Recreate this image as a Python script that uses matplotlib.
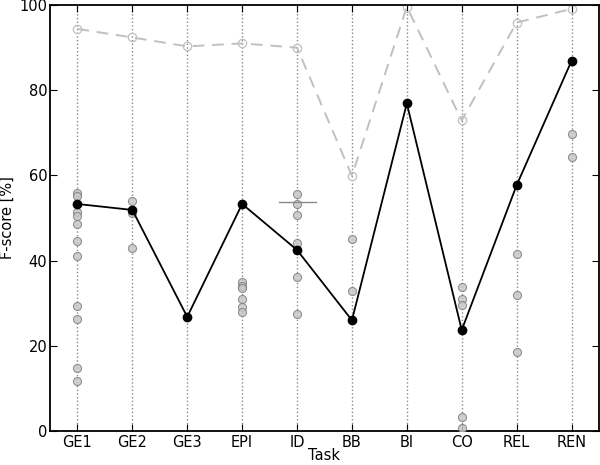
import matplotlib
matplotlib.use('Agg')
import matplotlib.pyplot as plt
import numpy as np

tasks = ['GE1', 'GE2', 'GE3', 'EPI', 'ID', 'BB', 'BI', 'CO', 'REL', 'REN']
# upper bound (dashed, open circles)
upper = [94.4, 92.4, 90.3, 91.0, 90.0, 59.9, 99.6, 72.9, 95.9, 99.1]
# best system (solid, black dots)
best = [53.3, 51.9, 26.8, 53.3, 42.5, 26.0, 76.9, 23.7, 57.7, 86.9]
# other participants (gray dots)
others = {
    'GE1': [55.9, 55.1, 51.5, 50.5, 48.7, 44.6, 41.1, 29.3, 26.2, 14.7, 11.7],
    'GE2': [54.0, 51.1, 43.0],
    'GE3': [],
    'EPI': [35.0, 34.0, 33.5, 31.1, 29.0, 27.9],
    'ID': [55.6, 53.3, 50.6, 44.2, 36.2, 27.4],
    'BB': [45.0, 32.9],
    'BI': [],
    'CO': [33.9, 31.1, 29.6, 3.2, 0.6],
    'REL': [41.5, 31.9, 18.6],
    'REN': [69.8, 64.3],
}
id_mark = 53.8  # horizontal marker at ID

fig = plt.figure(figsize=(6, 4.65), dpi=100)
ax = fig.add_axes([0.0833, 0.0731, 0.915, 0.916])
x = np.arange(len(tasks))

for i, t in enumerate(tasks):
    vals = others[t]
    ax.plot([i] * len(vals), vals, 'o', markersize=5.8, markerfacecolor='#c8c8c8',
            markeredgecolor='#808080', markeredgewidth=0.8, alpha=0.85, zorder=3)

ax.plot(x, upper, '--', color='#c0c0c0', linewidth=1.4, dashes=(6, 4), zorder=2)
ax.plot(x, upper, 'o', markersize=6, markerfacecolor='none',
        markeredgecolor='#c0c0c0', markeredgewidth=0.9, zorder=2)
ax.plot(x, best, '-', color='k', linewidth=1.3, marker='o', markersize=6,
        markerfacecolor='k', markeredgecolor='k', zorder=4)
ax.plot([4 - 0.33, 4 + 0.34], [id_mark, id_mark], color='#888888', linewidth=1.0, zorder=3)

ax.set_xlim(-0.5, len(tasks) - 0.5)
ax.set_ylim(0, 100)
ax.set_xticks(x)
ax.set_xticklabels(tasks)
ax.set_yticks(np.arange(0, 101, 20))
ax.grid(axis='x', color='#888888', linestyle=':', linewidth=1.0)
ax.set_axisbelow(True)
ax.tick_params(direction='in', top=True, right=True, labelsize=10.5, length=5)
ax.tick_params(axis='y', pad=2)
ax.tick_params(axis='x', pad=3)
for s in ax.spines.values():
    s.set_linewidth(1.3)
ax.set_xlabel('Task', fontsize=10.5)
ax.xaxis.set_label_coords(0.5, -0.039)
ax.set_ylabel('F-score [%]', fontsize=10.5, labelpad=3)

fig.savefig('out.png', dpi=100)
